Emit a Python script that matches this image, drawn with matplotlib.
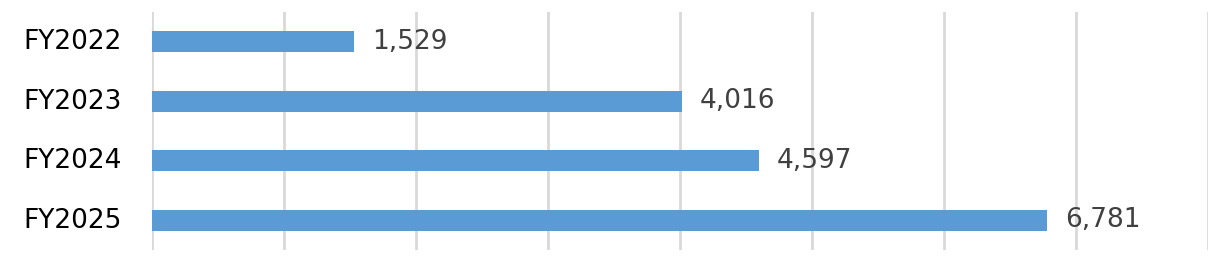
import matplotlib.pyplot as plt
import matplotlib.transforms as mtransforms

years = ['FY2022', 'FY2023', 'FY2024', 'FY2025']
values = [1529, 4016, 4597, 6781]

fig = plt.figure(figsize=(12.25, 2.56), dpi=100)
ax = fig.add_axes([152 / 1225, 6 / 256, (1208 - 152) / 1225, (250 - 12) / 256])

pos = range(len(years))
ax.barh(pos, values, height=0.35, color='#5b9bd5', zorder=3)
for p, v in zip(pos, values):
    ax.text(v + 135, p, f'{v:,}', va='center', ha='left',
            fontsize=19, color='#404040')

ax.set_xlim(0, 8000)
ax.set_ylim(3.5, -0.5)
ax.set_xticks(range(0, 8001, 1000))
ax.set_xticklabels([])
ax.set_yticks(list(pos))
ax.set_yticklabels(years, fontsize=19, color='black')
ax.tick_params(axis='both', length=0)
ax.tick_params(axis='y', pad=22)
ax.grid(axis='x', color='#d9d9d9', linewidth=2, zorder=0)
for s in ax.spines.values():
    s.set_visible(False)

# nudge category labels up a little
shift = mtransforms.ScaledTranslation(0, 2.5 / 100, fig.dpi_scale_trans)
for lbl in ax.get_yticklabels():
    lbl.set_transform(lbl.get_transform() + shift)

fig.savefig('out.png', dpi=100)
